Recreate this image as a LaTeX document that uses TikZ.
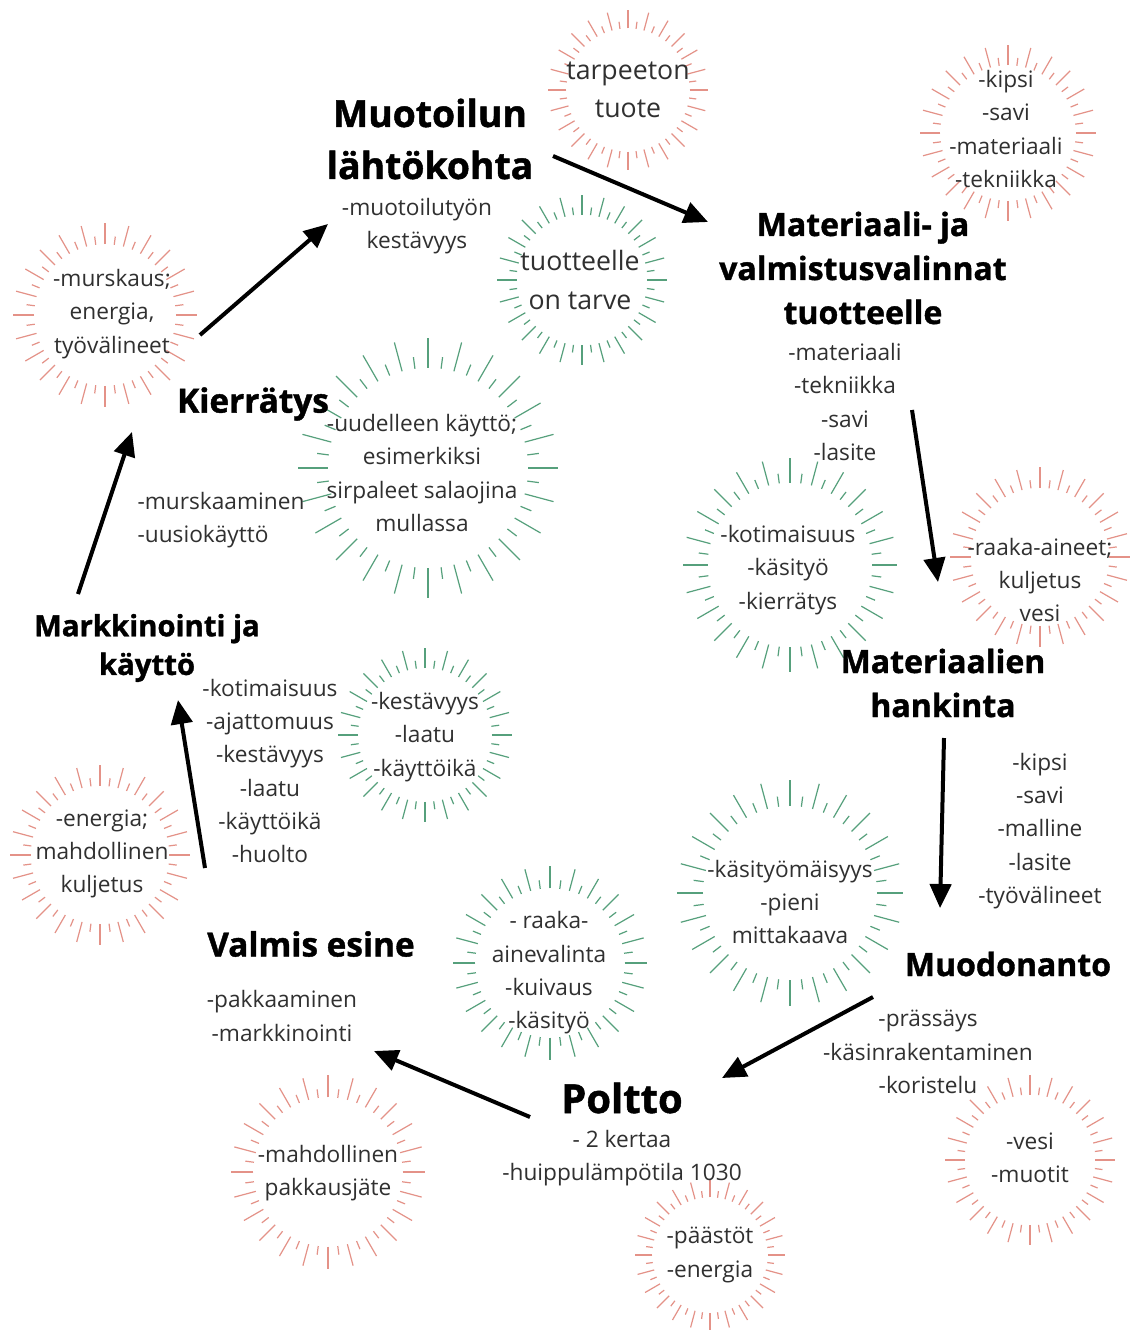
\documentclass[tikz,border=0pt]{standalone}
\usepackage{fontspec}
\setmainfont{Open Sans}[BoldFeatures={FakeBold=1.2}]
\usetikzlibrary{arrows.meta}

\definecolor{burstred}{RGB}{228,146,136}
\definecolor{burstgreen}{RGB}{86,160,124}
\definecolor{notegray}{RGB}{48,48,48}

\tikzset{every picture/.style={line width=0.75pt}}
\tikzset{
  stagehead/.style={font=\bfseries\fontsize{24}{33}\selectfont, align=center, inner sep=0pt},
  bigstage/.style={font=\bfseries\fontsize{28}{39}\selectfont, align=center, inner sep=0pt},
  notes/.style={font=\fontsize{17}{25}\selectfont, text=notegray, align=center, inner sep=0pt},
  bignotes/.style={font=\fontsize{20}{29}\selectfont, text=notegray, align=center, inner sep=0pt},
  flow/.style={line width=3pt, -{Triangle[length=18pt,width=16pt]}},
  ray/.style={line width=0.9pt}
}

% ring of rays: name, centre, radius, colour, text centre, text style, text
\newcommand{\burst}[7]{%
  \coordinate (#1) at (#2);
  \foreach \ang in {0,15,...,345}{\draw[ray,#4] (#1) ++(\ang:0.77*#3) -- ++(\ang:0.23*#3);}
  \foreach \ang in {7.5,22.5,...,352.5}{\draw[ray,#4] (#1) ++(\ang:0.77*#3) -- ++(\ang:0.09*#3);}
  \node[#6] (#1-t) at (#5) {#7};
}

\begin{document}
\begin{tikzpicture}[x=0.75pt,y=0.75pt,yscale=-1,xscale=1]
\fill[white] (0,0) rectangle (1129,1333);
\useasboundingbox (0,0) rectangle (1129,1333);

%Bursts [red]
\burst{tarve0}{628,90}{80}{burstred}{628,90}{bignotes}{tarpeeton\\tuote}
\burst{aineet}{1008,133}{88}{burstred}{1006,129}{notes}{-kipsi\\-savi\\-materiaali\\-tekniikka}
\burst{murska}{105,315}{92}{burstred}{112,314}{notes}{-murskaus;\\energia,\\työvälineet}
\burst{kuljetus}{1040,557}{90}{burstred}{1040,580}{notes}{-raaka-aineet;\\kuljetus\\vesi}
\burst{energia}{100,855}{90}{burstred}{102,854}{notes}{-energia;\\mahdollinen\\kuljetus}
\burst{muotit}{1030,1160}{85}{burstred}{1030,1158}{notes}{-vesi\\-muotit}
\burst{jate}{328,1172}{97}{burstred}{328,1173}{notes}{-mahdollinen\\pakkausjäte}
\burst{paastot}{710,1255}{75}{burstred}{710,1255}{notes}{-päästöt\\-energia}

%Bursts [green]
\burst{tarve1}{582,280}{85}{burstgreen}{580,280}{bignotes}{tuotteelle\\on tarve}
\burst{uusi}{428,468}{130}{burstgreen}{422,473}{notes}{-uudelleen käyttö;\\esimerkiksi\\sirpaleet salaojina\\mullassa}
\burst{koti}{790,565}{107}{burstgreen}{788,570}{notes}{-kotimaisuus\\-käsityö\\-kierrätys}
\burst{laatu}{425,735}{87}{burstgreen}{425,737}{notes}{-kestävyys\\-laatu\\-käyttöikä}
\burst{mittakaava}{790,893}{113}{burstgreen}{790,902}{notes}{-käsityömäisyys\\-pieni\\mittakaava}
\burst{kuivaus}{550,963}{97}{burstgreen}{549,973}{notes}{- raaka-\\ainevalinta\\-kuivaus\\-käsityö}

% Stage Nodes
\node[bigstage] (lahto) at (430,139) {Muotoilun\\lähtökohta};
\node[stagehead] (valinnat) at (863,268) {Materiaali- ja\\valmistusvalinnat\\tuotteelle};
\node[stagehead] (hankinta) at (943,683) {Materiaalien\\hankinta};
\node[stagehead] (muodonanto) at (1008,964) {Muodonanto};
\node[bigstage, font=\bfseries\fontsize{30}{39}\selectfont] (poltto) at (622,1098) {Poltto};
\node[stagehead, font=\bfseries\fontsize{25}{33}\selectfont] (valmis) at (311,944) {Valmis esine};
\node[stagehead, font=\bfseries\fontsize{22}{29}\selectfont] (markkinointi) at (147,648) {Markkinointi ja\\käyttö};
\node[stagehead, font=\bfseries\fontsize{25}{33}\selectfont] (kierratys) at (253,404) {Kierrätys};

% Note Nodes
\node[notes] (lahto-n) at (417,226) {-muotoilutyön\\kestävyys};
\node[notes] (valinnat-n) at (845,402) {-materiaali\\-tekniikka\\-savi\\-lasite};
\node[notes] (muodonanto-n0) at (1040,831) {-kipsi\\-savi\\-malline\\-lasite\\-työvälineet};
\node[notes] (muodonanto-n1) at (928,1052) {-prässäys\\-käsinrakentaminen\\-koristelu};
\node[notes] (poltto-n) at (622,1158) {- 2 kertaa\\-huippulämpötila 1030};
\node[notes] (valmis-n) at (282,1016) {-pakkaaminen\\-markkinointi};
\node[notes] (markkinointi-n) at (270,771) {-kotimaisuus\\-ajattomuus\\-kestävyys\\-laatu\\-käyttöikä\\-huolto};
\node[notes, align=left] (kierratys-n) at (221,520) {-murskaaminen\\-uusiokäyttö};

% Arrow ends
\coordinate (f1a) at (553,156); \coordinate (f1b) at (708,222);
\coordinate (f2a) at (912,410); \coordinate (f2b) at (938,582);
\coordinate (f3a) at (944,738); \coordinate (f3b) at (940,908);
\coordinate (f4a) at (873,997); \coordinate (f4b) at (722,1078);
\coordinate (f5a) at (530,1117); \coordinate (f5b) at (374,1051);
\coordinate (f6a) at (205,868); \coordinate (f6b) at (178,700);
\coordinate (f7a) at (78,594); \coordinate (f7b) at (132,432);
\coordinate (f8a) at (200,335); \coordinate (f8b) at (328,224);

%Straight Lines
\foreach \k in {1,...,8}{\draw[flow] (f\k a) -- (f\k b);}

\end{tikzpicture}
\end{document}
